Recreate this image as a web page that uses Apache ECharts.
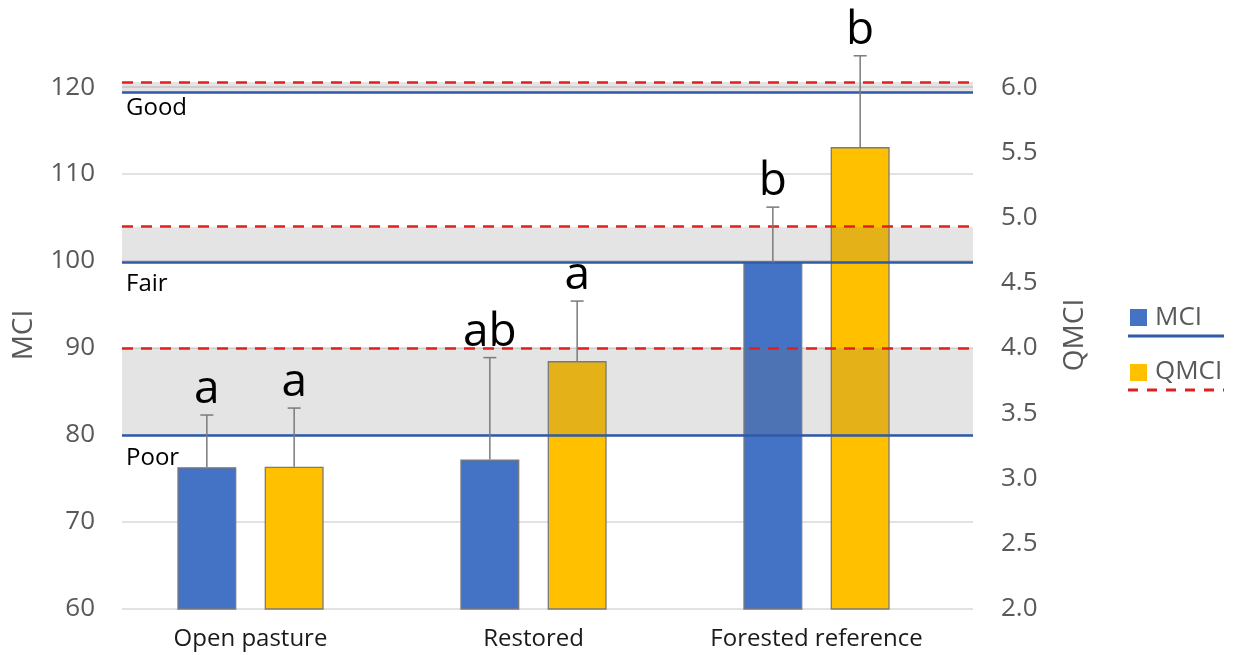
<!DOCTYPE html>
<html>
<head>
<meta charset="utf-8">
<script src="https://cdn.jsdelivr.net/npm/echarts@6/dist/echarts.min.js"></script>
<style>
html,body{margin:0;padding:0;background:#fff;}
#chart{width:1235px;height:655px;}
</style>
</head>
<body>
<div id="chart"></div>
<script>
// ---------- data ----------
const categories = ['Open pasture', 'Restored', 'Forested reference'];
const mciMean = [76.3, 77.2, 99.8];
const mciSE = [6.0, 11.7, 6.4];
const qmciMean = [3.09, 3.90, 5.54];
const qmciSE = [0.45, 0.46, 0.70];
const mciLetters = ['a', 'ab', 'b'];
const qmciLetters = ['a', 'a', 'b'];
const thresholdNames = ['Poor', 'Fair', 'Good'];
const mciThresholds = [80, 99.9, 119.4];
const qmciThresholds = [4.0, 4.93, 6.04];
const bandTopsMCI = [90.0, 103.9, 120.6];
const mciAxis = {min: 60, max: 123, interval: 10};
const qmciAxis = {min: 2.0, max: 6.2, interval: 0.5};

// ---------- style ----------
const FONT = '"Open Sans", sans-serif';
const BAR_W = 59, GAP_RATIO = 0.48;
const BAR_OFF = BAR_W * (1 + GAP_RATIO) / 2;
const BLUE = '#4472C4', YELLOW = '#FFC000', LINE_BLUE = '#2E5AA7', RED = '#E0201C';
const LABEL_GAPS = [11, 10, 4];

const chart = echarts.init(document.getElementById('chart'), null, {renderer: 'canvas'});

function errRender(side, letters) {
  return function (params, api) {
    const i = api.value(0);
    const p0 = api.coord([i, api.value(1)]);
    const p1 = api.coord([i, api.value(2)]);
    const cx = p0[0] + side * BAR_OFF;
    return {
      type: 'group',
      children: [
        {type: 'line', shape: {x1: cx, y1: p0[1], x2: cx, y2: p1[1]}, style: {stroke: '#7a7a7a', lineWidth: 1.5}},
        {type: 'line', shape: {x1: cx - 6.5, y1: p1[1], x2: cx + 6.5, y2: p1[1]}, style: {stroke: '#7a7a7a', lineWidth: 1.5}},
        {type: 'text', style: {text: letters[params.dataIndex], x: cx, y: p1[1] - 2, align: 'center', verticalAlign: 'bottom', font: '46px ' + FONT, fill: '#000'}}
      ]
    };
  };
}

const hiddenY = (ax) => ({
  type: 'value', gridIndex: 1, min: ax.min, max: ax.max, interval: ax.interval,
  show: false, splitLine: {show: false}
});

const option = {
  animation: false,
  backgroundColor: '#fff',
  grid: [
    {left: 122, right: 262, top: 61, bottom: 46},
    {left: 109, right: 277, top: 61, bottom: 46}
  ],
  xAxis: [
    {type: 'value', gridIndex: 0, min: 0, max: 1, show: false, splitLine: {show: false}},
    {type: 'category', gridIndex: 1, data: categories,
     axisLine: {show: false}, axisTick: {show: false},
     axisLabel: {color: '#1a1a1a', fontSize: 24, fontFamily: FONT, margin: 18}}
  ],
  yAxis: [
    {type: 'value', gridIndex: 0, position: 'left', min: mciAxis.min, max: mciAxis.max, interval: mciAxis.interval,
     name: 'MCI', nameLocation: 'middle', nameRotate: 90, nameGap: 84,
     nameTextStyle: {color: '#595959', fontSize: 28, fontFamily: FONT},
     axisLine: {show: false}, axisTick: {show: false},
     axisLabel: {color: '#595959', fontSize: 26, fontFamily: FONT, margin: 27, showMaxLabel: false},
     splitLine: {show: true, showMaxLine: false, lineStyle: {color: '#d9d9d9', width: 1.5}}},
    {type: 'value', gridIndex: 0, position: 'right', min: qmciAxis.min, max: qmciAxis.max, interval: qmciAxis.interval,
     name: 'QMCI', nameLocation: 'middle', nameRotate: 90, nameGap: 88,
     nameTextStyle: {color: '#595959', fontSize: 28, fontFamily: FONT},
     axisLine: {show: false}, axisTick: {show: false},
     axisLabel: {color: '#595959', fontSize: 26, fontFamily: FONT, margin: 28, showMaxLabel: false,
                 formatter: v => v.toFixed(1)},
     splitLine: {show: false}},
    hiddenY(mciAxis),
    hiddenY(qmciAxis)
  ],
  series: [
    {type: 'bar', name: 'MCI', xAxisIndex: 1, yAxisIndex: 2, data: mciMean, barWidth: BAR_W, barGap: (GAP_RATIO * 100) + '%',
     itemStyle: {color: BLUE, borderColor: '#7a7a7a', borderWidth: 1.3}, z: 2},
    {type: 'bar', name: 'QMCI', xAxisIndex: 1, yAxisIndex: 3, data: qmciMean, barWidth: BAR_W, barGap: (GAP_RATIO * 100) + '%',
     itemStyle: {color: YELLOW, borderColor: '#7a7a7a', borderWidth: 1.3}, z: 2},
    {type: 'custom', xAxisIndex: 1, yAxisIndex: 2, z: 6, clip: false,
     data: categories.map((c, i) => [i, mciMean[i], mciMean[i] + mciSE[i]]),
     encode: {x: 0, y: [1, 2]}, renderItem: errRender(-1, mciLetters)},
    {type: 'custom', xAxisIndex: 1, yAxisIndex: 3, z: 6, clip: false,
     data: categories.map((c, i) => [i, qmciMean[i], qmciMean[i] + qmciSE[i]]),
     encode: {x: 0, y: [1, 2]}, renderItem: errRender(1, qmciLetters)},
    {type: 'line', xAxisIndex: 0, yAxisIndex: 0, data: [], clip: false, silent: true,
     markArea: {silent: true, z: 3, itemStyle: {color: 'rgba(120,120,120,0.2)'},
       data: mciThresholds.map((v, i) => [{yAxis: v}, {yAxis: bandTopsMCI[i]}])},
     markLine: {silent: true, z: 5, symbol: ['none', 'none'],
       lineStyle: {color: LINE_BLUE, width: 2.5, type: 'solid'},
       label: {show: true, position: 'insideStartBottom', formatter: '{b}', color: '#000',
               fontSize: 24, fontFamily: FONT},
       data: mciThresholds.map((v, i) => ({yAxis: v, name: thresholdNames[i],
               label: {distance: [4, LABEL_GAPS[i]]}}))}},
    {type: 'line', xAxisIndex: 0, yAxisIndex: 1, data: [], clip: false, silent: true,
     markLine: {silent: true, z: 5, symbol: ['none', 'none'],
       lineStyle: {color: RED, width: 2.5, type: [11, 8]},
       label: {show: false},
       data: qmciThresholds.map(v => ({yAxis: v}))}}
  ],
  graphic: [
    {type: 'rect', shape: {x: 1130, y: 309, width: 17, height: 17}, style: {fill: BLUE}},
    {type: 'text', style: {text: 'MCI', x: 1155, y: 318, verticalAlign: 'middle', font: '26px ' + FONT, fill: '#595959'}},
    {type: 'line', shape: {x1: 1128, y1: 336, x2: 1224, y2: 336}, style: {stroke: LINE_BLUE, lineWidth: 3}},
    {type: 'rect', shape: {x: 1130, y: 364, width: 17, height: 17}, style: {fill: YELLOW}},
    {type: 'text', style: {text: 'QMCI', x: 1155, y: 372, verticalAlign: 'middle', font: '26px ' + FONT, fill: '#595959'}},
    {type: 'line', shape: {x1: 1128, y1: 390, x2: 1224, y2: 390}, style: {stroke: RED, lineWidth: 3, lineDash: [10, 9]}}
  ]
};
chart.setOption(option);
</script>
</body>
</html>
